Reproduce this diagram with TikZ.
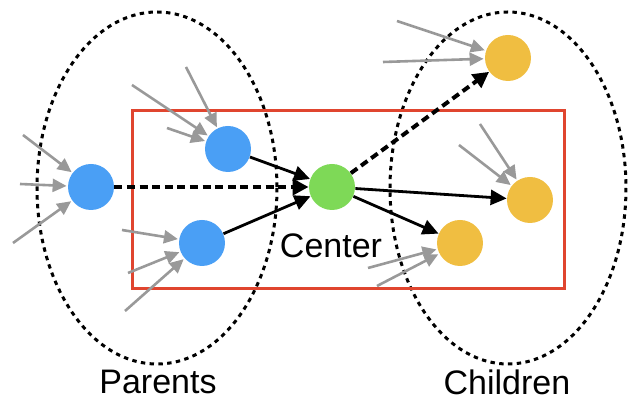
\documentclass[tikz,border=0pt]{standalone}
\usepackage{fontspec}
\setmainfont{Liberation Sans}
\usepackage{xcolor}
\usetikzlibrary{arrows.meta}

\definecolor{parblue}{HTML}{4A9FF5}
\definecolor{ctrgreen}{HTML}{7ED957}
\definecolor{chyellow}{HTML}{F0BE41}
\definecolor{boxred}{HTML}{E0452F}
\definecolor{ingray}{HTML}{999999}

\tikzset{
    dot/.style = {circle, inner sep=0pt, minimum size=23pt},
    grp/.style = {line width=1.5pt, dash pattern=on 2.2pt off 2.2pt},
    inarr/.style = {ingray, line width=1.3pt, -{Triangle[length=7pt, width=6.5pt]}, shorten >=0.5pt},
    edge/.style = {black, line width=1.4pt, -{Triangle[length=8pt, width=7.5pt]}},
    hidden/.style = {black, line width=2pt, dash pattern=on 4pt off 2.3pt, -{Triangle[length=8pt, width=8pt]}},
    lbl/.style = {font=\fontsize{17}{20}\selectfont}
}

\begin{document}
\begin{tikzpicture}[x=0.5pt, y=-0.5pt]
    \useasboundingbox (0,0) rectangle (629,400);

    % groups
    \draw[grp] (157,188) ellipse [x radius=120, y radius=176];
    \draw[grp] (508,188) ellipse [x radius=118, y radius=176];
    \draw[boxred, line width=1.5pt] (133,111) rectangle (565,289);

    % nodes
    \node[dot, fill=parblue] (par1) at (91,187) {};
    \node[dot, fill=parblue] (par2) at (228,149) {};
    \node[dot, fill=parblue] (par3) at (202,243) {};
    \node[dot, fill=ctrgreen] (ctr) at (332,187) {};
    \node[dot, fill=chyellow] (ch1) at (508,58) {};
    \node[dot, fill=chyellow] (ch2) at (530,200) {};
    \node[dot, fill=chyellow] (ch3) at (460,243) {};

    % labels
    \node[lbl] (lblctr) at (331,246) {Center};
    \node[lbl] (lblpar) at (158,382) {Parents};
    \node[lbl] (lblch) at (507,382) {Children};

    % incoming edges from outside
    \coordinate (a1) at (23,135);
    \coordinate (a2) at (20,184);
    \coordinate (a3) at (13,243);
    \coordinate (b1) at (132,85);
    \coordinate (b2) at (186,67);
    \coordinate (b3) at (167,128);
    \coordinate (c1) at (122,230);
    \coordinate (c2) at (128,273);
    \coordinate (c3) at (125,311);
    \coordinate (d1) at (397,21);
    \coordinate (d2) at (383,62);
    \coordinate (e1) at (480,124);
    \coordinate (e2) at (459,145);
    \coordinate (f1) at (368,268);
    \coordinate (f2) at (377,286);

    \draw[inarr] (a1) -- (par1);
    \draw[inarr] (a2) -- (par1);
    \draw[inarr] (a3) -- (par1);
    \draw[inarr] (b1) -- (par2);
    \draw[inarr] (b2) -- (par2);
    \draw[inarr] (b3) -- (par2);
    \draw[inarr] (c1) -- (par3);
    \draw[inarr] (c2) -- (par3);
    \draw[inarr] (c3) -- (par3);
    \draw[inarr] (d1) -- (ch1);
    \draw[inarr] (d2) -- (ch1);
    \draw[inarr] (e1) -- (ch2);
    \draw[inarr] (e2) -- (ch2);
    \draw[inarr] (f1) -- (ch3);
    \draw[inarr] (f2) -- (ch3);

    % edges through the center
    \draw[hidden] (par1) -- (ctr);
    \draw[edge] (par2) -- (ctr);
    \draw[edge] (par3) -- (ctr);
    \draw[hidden] (ctr) -- (ch1);
    \draw[edge] (ctr) -- (ch2);
    \draw[edge] (ctr) -- (ch3);
\end{tikzpicture}
\end{document}
